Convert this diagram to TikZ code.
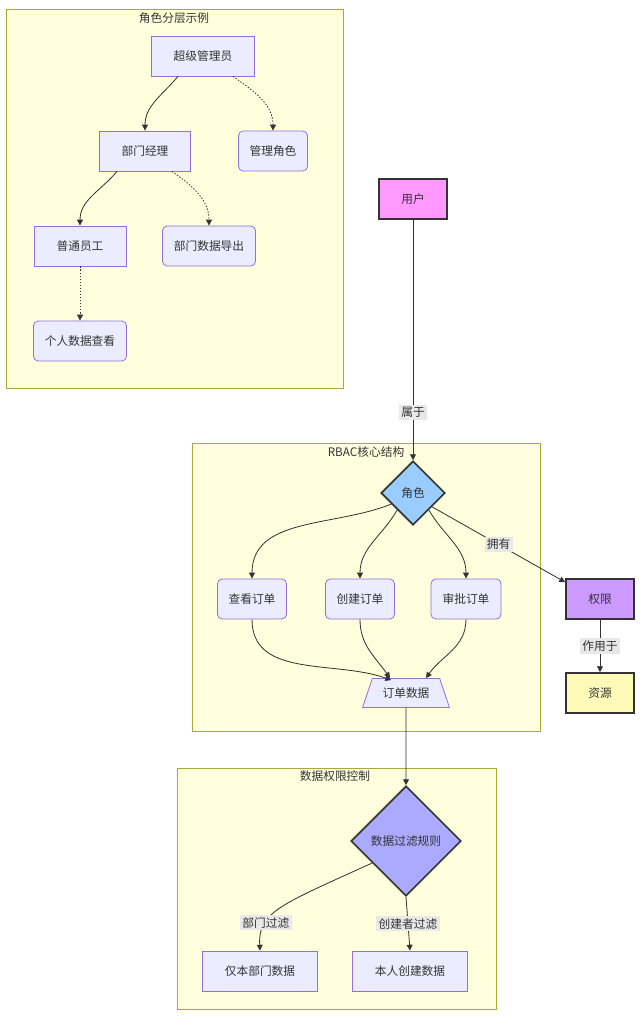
\documentclass[tikz,border=0pt]{standalone}
\usepackage{fontspec}
\setmainfont{Noto Sans CJK SC}
\usetikzlibrary{shapes.geometric, arrows.meta, calc, positioning}
\definecolor{nodefill}{HTML}{ECECFF}
\definecolor{nodeline}{HTML}{9370DB}
\definecolor{groupfill}{HTML}{FFFFDE}
\definecolor{groupline}{HTML}{AAAA33}
\definecolor{darkline}{HTML}{333333}
\definecolor{labelfill}{HTML}{E8E8E8}
\definecolor{userfill}{HTML}{FF99FF}
\definecolor{rolefill}{HTML}{99CCFF}
\definecolor{permfill}{HTML}{CC99FF}
\definecolor{resfill}{HTML}{FFFAB8}
\definecolor{rulefill}{HTML}{AAAAFF}
\tikzstyle{group} = [draw=groupline, fill=groupfill, line width=0.7pt]
\tikzstyle{grouptitle} = [text=darkline, inner sep=1pt]
\tikzstyle{box} = [rectangle, draw=nodeline, fill=nodefill, line width=0.7pt, minimum height=1.2cm, text=darkline]
\tikzstyle{roundbox} = [box, rounded corners=4pt]
\tikzstyle{keybox} = [rectangle, draw=darkline, line width=1.4pt, minimum width=2.04cm, minimum height=1.2cm, text=darkline]
\tikzstyle{keydiamond} = [diamond, aspect=1, draw=darkline, line width=1.4pt, inner sep=0pt, text=darkline]
\tikzstyle{connector} = [draw=darkline, line width=0.7pt, -{Triangle[length=5pt, width=5pt]}]
\tikzstyle{dotconnector} = [connector, dash pattern=on 1.2pt off 1.4pt]
\tikzstyle{edgelabel} = [fill=labelfill, inner sep=2pt, text=darkline]

\begin{document}
\begin{tikzpicture}[x=0.03cm, y=0.03cm]
    \useasboundingbox (0,0) rectangle (640,-1019);
    % Groups
    \draw [group] (6,-9) rectangle (343,-388);
    \draw [group] (192,-443) rectangle (540,-731);
    \draw [group] (177,-768) rectangle (496,-1009);
    \node [grouptitle] (hierTitle) at (174,-18) {角色分层示例};
    \node [grouptitle] (rbacTitle) at (366,-452) {RBAC核心结构};
    \node [grouptitle] (dataTitle) at (335,-776) {数据权限控制};

    % Nodes
    \node [box, minimum width=3.09cm] (superAdmin) at (203,-56) {超级管理员};
    \node [roundbox, minimum width=2.07cm] (manageRole) at (273,-151) {管理角色};
    \node [box, minimum width=2.73cm] (deptManager) at (145,-151) {部门经理};
    \node [box, minimum width=2.76cm] (staff) at (80,-246) {普通员工};
    \node [roundbox, minimum width=2.79cm] (deptExport) at (209,-246) {部门数据导出};
    \node [roundbox, minimum width=2.79cm] (selfView) at (80,-341) {个人数据查看};

    \node [keybox, fill=userfill] (user) at (413,-199) {用户};
    \node [keydiamond, fill=rolefill, minimum size=1.92cm] (role) at (413,-493) {角色};
    \node [roundbox, minimum width=2.07cm] (viewOrder) at (252,-599) {查看订单};
    \node [roundbox, minimum width=2.07cm] (createOrder) at (360,-599) {创建订单};
    \node [roundbox, minimum width=2.1cm] (approveOrder) at (466,-599) {审批订单};
    \node [trapezium, trapezium left angle=67, trapezium right angle=67, trapezium stretches=true,
           draw=nodeline, fill=nodefill, line width=0.7pt, text=darkline,
           minimum width=2.61cm, minimum height=0.87cm] (orderData) at (406,-693) {订单数据};
    \node [keybox, fill=permfill] (perm) at (600,-599) {权限};
    \node [keybox, fill=resfill] (resource) at (600,-693) {资源};

    \node [keydiamond, fill=rulefill, minimum size=3.3cm] (filterRule) at (406,-841) {数据过滤规则};
    \node [box, minimum width=3.45cm] (deptData) at (260,-971) {仅本部门数据};
    \node [box, minimum width=3.45cm] (ownData) at (410,-971) {本人创建数据};

    % Arrows
    \path [connector] ($(superAdmin.south)+(-25,0)$) to[out=-130, in=90] (deptManager.north);
    \path [dotconnector] ($(superAdmin.south)+(30,0)$) to[out=-35, in=90] (manageRole.north);
    \path [connector] ($(deptManager.south)+(-28,0)$) to[out=-130, in=90] (staff.north);
    \path [dotconnector] ($(deptManager.south)+(27,0)$) to[out=-35, in=90] (deptExport.north);
    \path [dotconnector] (staff) -- (selfView);

    \path [connector] (user) -- node[edgelabel, pos=0.8] {属于} (role.north);
    \path [connector] (role.207) to[out=-158, in=90] (viewOrder.north);
    \path [connector] (role.227) to[out=-120, in=90] (createOrder.north);
    \path [connector] (role.313) to[out=-60, in=90] (approveOrder.north);
    \path [connector] (role.324) -- node[edgelabel, pos=0.5] {拥有} ($(perm.north west)+(0,-4)$);
    \path [connector] (perm) -- node[edgelabel, pos=0.5] {作用于} (resource);
    \path [connector] (viewOrder.south) to[out=-90, in=160] ($(orderData.north west)+(0,-2)$);
    \path [connector] (createOrder.south) to[out=-90, in=125] ($(orderData.north)+(-16,0)$);
    \path [connector] (approveOrder.south) to[out=-90, in=55] ($(orderData.north)+(20,0)$);
    \path [connector] (orderData) -- (filterRule.north);

    \path [connector] (filterRule.213) .. controls (280,-905) and (258,-912) .. node[edgelabel, pos=0.7] {部门过滤} (deptData.north);
    \path [connector] (filterRule.south) -- node[edgelabel, pos=0.5] {创建者过滤} (ownData.north);
\end{tikzpicture}
\end{document}
